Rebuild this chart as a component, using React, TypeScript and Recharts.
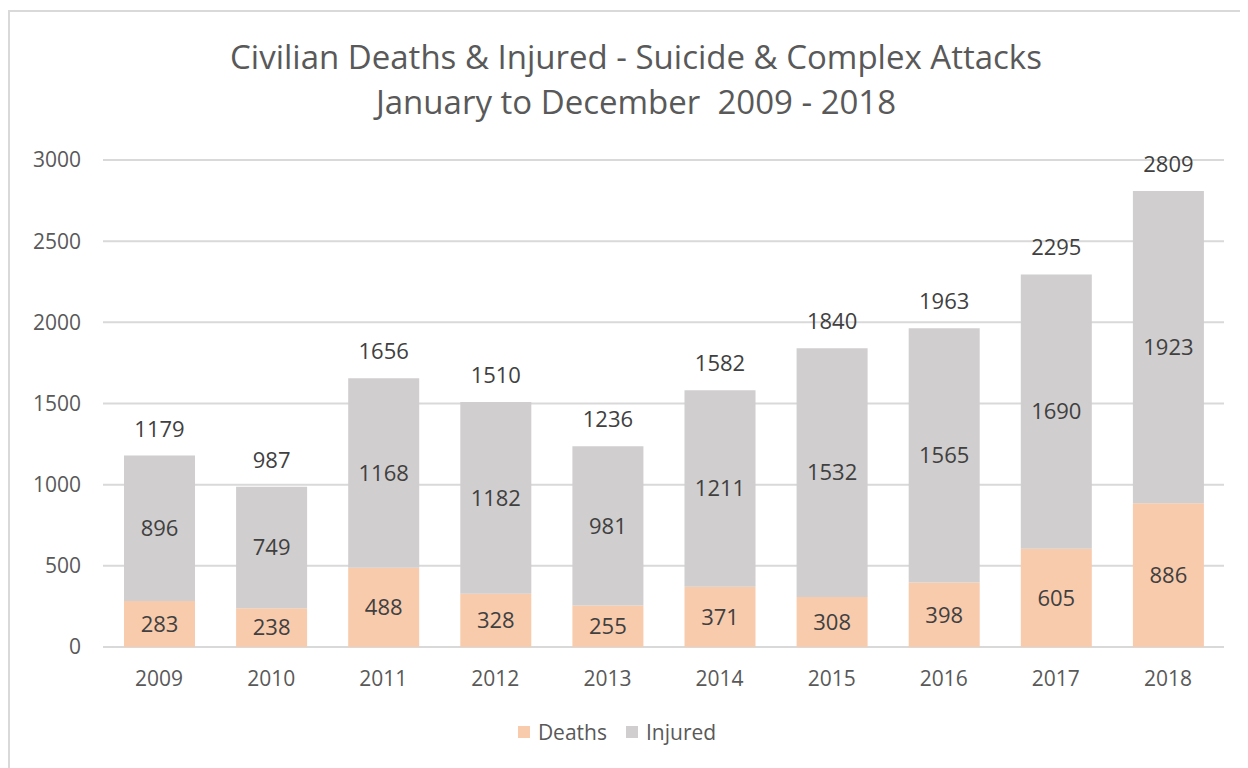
import { BarChart, Bar, XAxis, YAxis, CartesianGrid, Legend, LabelList } from 'recharts';

const years = ['2009', '2010', '2011', '2012', '2013', '2014', '2015', '2016', '2017', '2018'];
const deaths = [283, 238, 488, 328, 255, 371, 308, 398, 605, 886];
const injured = [896, 749, 1168, 1182, 981, 1211, 1532, 1565, 1690, 1923];
const totals = [1179, 987, 1656, 1510, 1236, 1582, 1840, 1963, 2295, 2809];
const yTicks = [0, 500, 1000, 1500, 2000, 2500, 3000];

const data = years.map((year, i) => ({
    year,
    deaths: deaths[i],
    injured: injured[i],
    total: totals[i],
}));

const FONT = '"Open Sans", "Noto Sans", sans-serif';
const AXIS_GRAY = '#595959';
const LABEL_GRAY = '#404040';

// legend drawn from the payload recharts hands us, just styled like excel
const renderLegend = (props: any) => {
    const { payload = [] } = props;
    return (
        <div style={{ display: 'flex', justifyContent: 'center', gap: 19, fontFamily: FONT, fontSize: 21 }}>
            {payload.map((entry: any) => (
                <div key={entry.value} style={{ display: 'flex', alignItems: 'center', gap: 8, color: AXIS_GRAY }}>
                    <span style={{ width: 12, height: 12, background: entry.color, display: 'inline-block' }} />
                    <span>{entry.value}</span>
                </div>
            ))}
        </div>
    );
};

export default function App() {
    return (
        <div
            style={{
                position: 'relative',
                width: 1240,
                height: 757,
                marginTop: 2,
                borderTop: '2px solid #d9d9d9',
                borderLeft: '2px solid #d9d9d9',
                fontFamily: FONT,
                background: '#fff',
            }}
        >
            <div
                style={{
                    position: 'absolute',
                    left: 0,
                    width: 1252,
                    top: 22,
                    textAlign: 'center',
                    color: AXIS_GRAY,
                    fontSize: 33,
                    lineHeight: '45px',
                }}
            >
                <div>Civilian Deaths &amp; Injured - Suicide &amp; Complex Attacks</div>
                <div>January to December&nbsp; 2009 - 2018</div>
            </div>
            <BarChart
                width={1240}
                height={755}
                data={data}
                margin={{ top: 148, right: 26, left: 0, bottom: 62 }}
                barSize={71}
            >
                <CartesianGrid vertical={false} stroke="#d9d9d9" strokeWidth={2} />
                <XAxis
                    dataKey="year"
                    axisLine={false}
                    tickLine={false}
                    tickSize={0}
                    tickMargin={24}
                    tick={{ fontSize: 21, fill: AXIS_GRAY, fontFamily: FONT }}
                />
                <YAxis
                    width={93}
                    domain={[0, 3000]}
                    ticks={yTicks}
                    axisLine={false}
                    tickLine={false}
                    tickSize={0}
                    tickMargin={22}
                    tick={{ fontSize: 21, fill: AXIS_GRAY, fontFamily: FONT }}
                />
                <Legend content={renderLegend} wrapperStyle={{ top: 706 }} />
                <Bar dataKey="deaths" name="Deaths" stackId="a" fill="#f8cbad" isAnimationActive={false}>
                    <LabelList dataKey="deaths" position="center" fill={LABEL_GRAY} fontSize={22} fontFamily={FONT} />
                </Bar>
                <Bar dataKey="injured" name="Injured" stackId="a" fill="#d0cece" isAnimationActive={false}>
                    <LabelList dataKey="injured" position="center" fill={LABEL_GRAY} fontSize={22} fontFamily={FONT} />
                    <LabelList dataKey="total" position="top" offset={19} fill={LABEL_GRAY} fontSize={22} fontFamily={FONT} />
                </Bar>
            </BarChart>
        </div>
    );
}
